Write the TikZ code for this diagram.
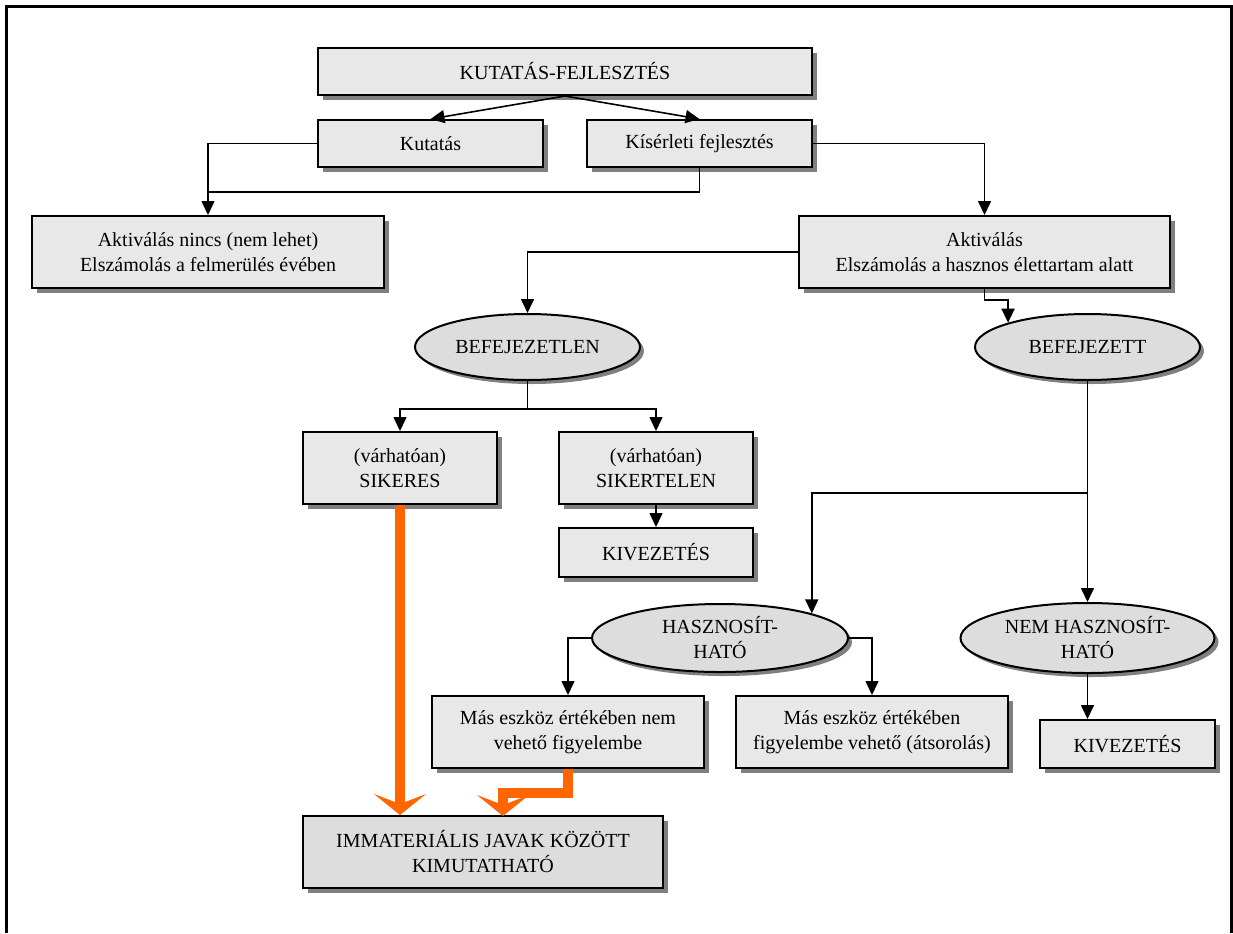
\documentclass[tikz,border=0pt]{standalone}
\usepackage{fontspec}
\setmainfont{Liberation Serif}
\usetikzlibrary{shapes.geometric,shadows,arrows.meta}
\definecolor{boxgray}{HTML}{E8E8E8}
\definecolor{ovalgray}{HTML}{DDDDDD}
\definecolor{shadegray}{HTML}{808080}
\definecolor{orangeflow}{HTML}{FF6600}

\begin{document}
\begin{tikzpicture}
[x=0.5pt,y=-0.5pt,
 every node/.style={font=\fontsize{10}{12.5}\selectfont,inner sep=0pt,align=center},
 box/.style={rectangle,draw,line width=1pt,fill=boxgray,drop shadow={shadow xshift=2.5pt,shadow yshift=-2.5pt,fill=shadegray,opacity=1}},
 oval/.style={ellipse,draw,line width=1pt,fill=ovalgray,drop shadow={shadow xshift=2pt,shadow yshift=-2pt,fill=shadegray,opacity=1}},
 line/.style={line width=0.8pt},
 link/.style={line width=0.8pt,-{Triangle[length=7pt,width=6.5pt]}},
 bigarrow/.style={draw=orangeflow,line width=5pt,-{Stealth[length=10.5pt,width=26pt,inset=5pt]}}]
\useasboundingbox (0,0) rectangle (1233,933);
\draw[line width=1.2pt] (6.5,933) -- (6.5,6.5) -- (1231.5,6.5) -- (1231.5,933);
\node (kf) at (565,71.5) [box,minimum width=247pt,minimum height=23.5pt] {KUTATÁS-FEJLESZTÉS};
\node (kut) at (430.5,143.5) [box,minimum width=112.5pt,minimum height=23.5pt] {Kutatás};
\node (kis) at (699.5,143.5) [box,minimum width=112.5pt,minimum height=23.5pt] {Kísérleti fejlesztés};
\node (nincs) at (208,252) [box,minimum width=176pt,minimum height=36pt] {Aktiválás nincs (nem lehet)\\Elszámolás a felmerülés évében};
\node (aktiv) at (984.5,252) [box,minimum width=185.5pt,minimum height=36pt] {Aktiválás\\Elszámolás a hasznos élettartam alatt};
\node (befl) at (527.5,347) [oval,minimum width=112.5pt,minimum height=33pt] {BEFEJEZETLEN};
\node (befd) at (1087.5,347) [oval,minimum width=112.5pt,minimum height=33pt] {BEFEJEZETT};
\node (siker) at (400,468) [box,minimum width=97pt,minimum height=36pt] {(várhatóan)\\SIKERES};
\node (sikertl) at (656,468) [box,minimum width=97pt,minimum height=36pt] {(várhatóan)\\SIKERTELEN};
\node (kiv1) at (656,552.5) [box,minimum width=97pt,minimum height=24.5pt] {KIVEZETÉS};
\node (hasz) at (720,638) [oval,minimum width=128pt,minimum height=34pt] {HASZNOSÍT-\\HATÓ};
\node (nemhasz) at (1087.5,638) [oval,minimum width=127pt,minimum height=35pt] {NEM HASZNOSÍT-\\HATÓ};
\node (masnem) at (568,732) [box,minimum width=136pt,minimum height=36pt] {Más eszköz értékében nem\\vehető figyelembe};
\node (masigen) at (872,732) [box,minimum width=136pt,minimum height=36pt] {Más eszköz értékében\\figyelembe vehető (átsorolás)};
\node (kiv2) at (1127.5,744) [box,minimum width=87.5pt,minimum height=24pt] {KIVEZETÉS};
\node (immat) at (483,852) [box,fill=ovalgray,minimum width=180pt,minimum height=36pt] {IMMATERIÁLIS JAVAK KÖZÖTT\\KIMUTATHATÓ};
\coordinate (j1) at (208,192);
\coordinate (o2) at (503,816);
\draw [link] (kf.south) -- (kut.north);
\draw [link] (kf.south) -- (kis.north);
\draw [link] (kut.west) -| (nincs.north);
\draw [line] (kis.south) |- (j1);
\draw [link] (kis.east) -| (aktiv.north);
\draw [link] (aktiv.west) -| (befl.north);
\draw [link] (aktiv.south) -- ++(0,11) -| (befd.163);
\draw [link] (befl.south) -- ++(0,28) -| (siker.north);
\draw [link] (befl.south) -- ++(0,28) -| (sikertl.north);
\draw [link] (sikertl.south) -- (kiv1.north);
\draw [link] (befd.south) -- (nemhasz.north);
\draw [link] (befd.south) -- ++(0,112) -| (hasz.15);
\draw [link] (hasz.west) -| (masnem.north);
\draw [link] (hasz.east) -| (masigen.north);
\draw [link] (nemhasz.south) -- (nemhasz.south |- kiv2.north);
\draw [bigarrow] (siker.south) -- (siker.south |- immat.north);
\draw [bigarrow] (masnem.south) -- ++(0,24) -| (o2);
\end{tikzpicture}
\end{document}
